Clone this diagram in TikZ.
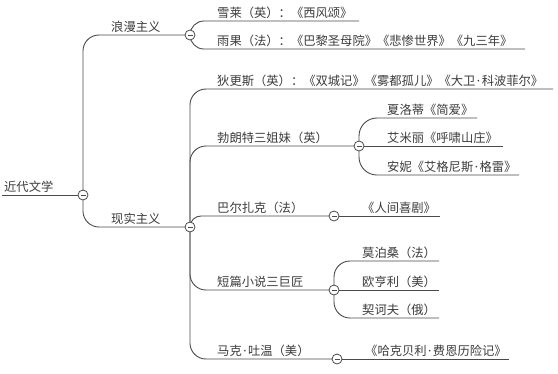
\documentclass[tikz,border=0pt]{standalone}
\usepackage{fontspec}
\setmainfont{Noto Sans CJK SC}
\newfontfamily\latinf{Noto Sans}
\newcommand{\mdot}{\hspace{0.12em}{\latinf ·}\hspace{0.12em}}
\usetikzlibrary{backgrounds}
\definecolor{txtc}{HTML}{3C3C3C}
\definecolor{linec}{HTML}{4A4A4A}
\tikzset{
 lbl/.style={anchor=base west, inner sep=0pt, text=txtc, font=\fontsize{12.3bp}{14bp}\selectfont},
 tog/.style={circle, draw=linec, fill=white, line width=0.8bp, minimum size=10bp, inner sep=0pt,
   path picture={\draw[linec, line width=0.8bp] ([xshift=-2.5bp]path picture bounding box.center) -- ([xshift=2.5bp]path picture bounding box.center);}},
 conn/.style={draw=linec, line width=0.9bp},
}
\begin{document}
\begin{tikzpicture}[x=1bp,y=-1bp]
\useasboundingbox (0,0) rectangle (558,373);
% toggles
\node[tog] (c0) at (83,195) {};
\node[tog] (c1) at (190,35) {};
\node[tog] (c2) at (190,227) {};
\node[tog] (cb) at (359,146) {};
\node[tog] (cz) at (334,216) {};
\node[tog] (cs) at (334,290) {};
\node[tog] (cm) at (337,359) {};
% labels
\node[lbl] (root) at (4,191) {近代文学};
\node[lbl] (lm) at (111,31) {浪漫主义};
\node[lbl] (xs) at (111,223) {现实主义};
\node[lbl] (xl) at (217,17) {雪莱（英）：《西风颂》};
\node[lbl] (yg) at (217,45) {雨果（法）：《巴黎圣母院》《悲惨世界》《九三年》};
\node[lbl] (dgs) at (217,85) {狄更斯（英）：《双城记》《雾都孤儿》《大卫\mdot 科波菲尔》};
\node[lbl] (blt) at (217,142) {勃朗特三姐妹（英）};
\node[lbl] (xld) at (387,114) {夏洛蒂《简爱》};
\node[lbl] (aml) at (387,142) {艾米丽《呼啸山庄》};
\node[lbl] (an) at (387,171) {安妮《艾格尼斯\mdot 格雷》};
\node[lbl] (bezk) at (217,212) {巴尔扎克（法）};
\node[lbl] (rjxj) at (362,212) {《人间喜剧》};
\node[lbl] (dp) at (217,286) {短篇小说三巨匠};
\node[lbl] (mbs) at (362,257) {莫泊桑（法）};
\node[lbl] (ohl) at (362,286) {欧亨利（美）};
\node[lbl] (qhf) at (362,314) {契诃夫（俄）};
\node[lbl] (mktw) at (217,355) {马克\mdot 吐温（美）};
\node[lbl] (hkbl) at (365,355) {《哈克贝利\mdot 费恩历险记》};
% free ends
\coordinate (e0) at (2,195);
\coordinate (exl) at (359,21);
\coordinate (eyg) at (525,49);
\coordinate (edgs) at (553,89);
\coordinate (exld) at (477,118);
\coordinate (eaml) at (503,146);
\coordinate (ean) at (519,175);
\coordinate (erj) at (440,216);
\coordinate (embs) at (439,261);
\coordinate (eohl) at (439,290);
\coordinate (eqhf) at (439,318);
\coordinate (ehk) at (509,359);
\begin{scope}[on background layer]
\fill[white] (0,0) rectangle (558,373);
\draw[conn] (e0) -- (c0);
\draw[conn, rounded corners=16] (c0.center) |- (c1.center);
\draw[conn, rounded corners=16] (c0.center) |- (c2.center);
\draw[conn, rounded corners=14] (c1.center) |- (exl);
\draw[conn, rounded corners=14] (c1.center) |- (eyg);
\draw[conn, rounded corners=16] (c2.center) |- (edgs);
\draw[conn, rounded corners=16] (c2.center) |- (cb.center);
\draw[conn, rounded corners=11] (c2.center) |- (cz.center);
\draw[conn, rounded corners=16] (c2.center) |- (cs.center);
\draw[conn, rounded corners=16] (c2.center) |- (cm.center);
\draw[conn, rounded corners=18] (cb.center) |- (exld);
\draw[conn] (cb) -- (eaml);
\draw[conn, rounded corners=18] (cb.center) |- (ean);
\draw[conn] (cz) -- (erj);
\draw[conn, rounded corners=16] (cs.center) |- (embs);
\draw[conn] (cs) -- (eohl);
\draw[conn, rounded corners=16] (cs.center) |- (eqhf);
\draw[conn] (cm) -- (ehk);
\end{scope}
\end{tikzpicture}
\end{document}
